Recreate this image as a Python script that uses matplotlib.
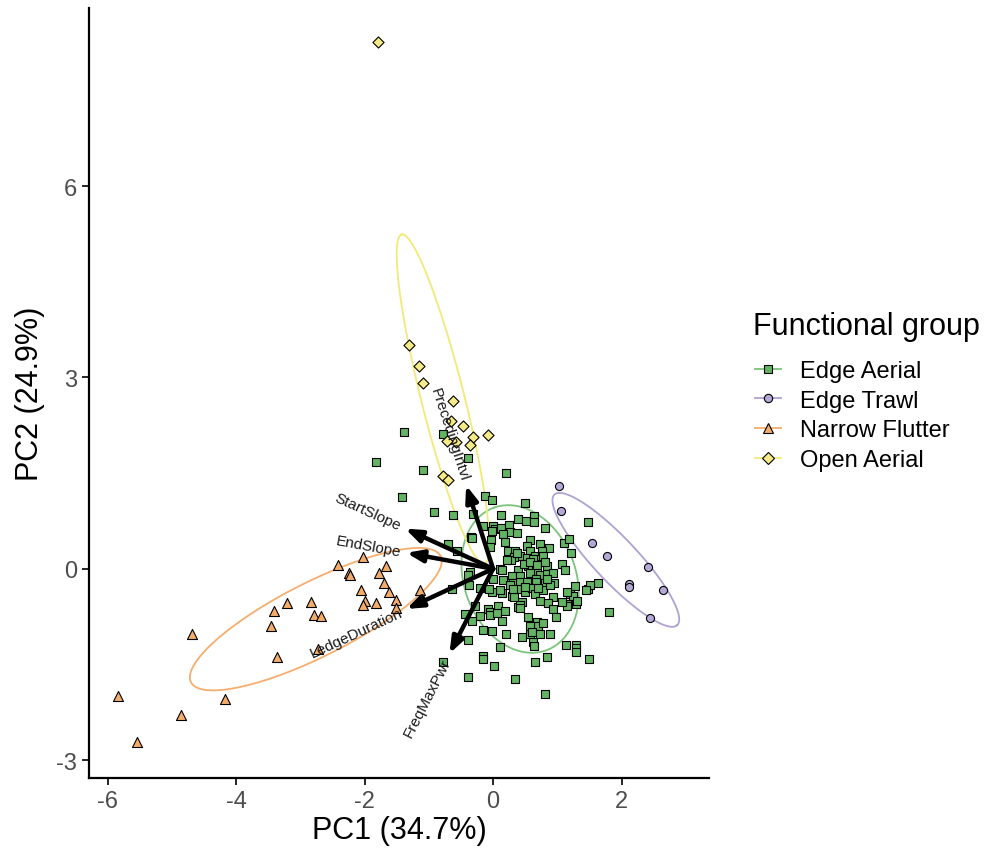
import numpy as np
import matplotlib
matplotlib.use('Agg')
import matplotlib.pyplot as plt
from matplotlib.lines import Line2D

plt.rcParams['font.family'] = ['Liberation Sans', 'DejaVu Sans']
plt.rcParams['axes.unicode_minus'] = False

# ---- data (PC scores) ----
edge_aerial_pc1 = [-1.39, -1.82, -1.09, -0.78, -0.39, 0.20, -1.42, -0.92, -0.62, -0.12,
                   -0.02, 0.50, -0.31, 0.12, 0.39, 0.51, 0.64, 0.64, 0.81, 1.48,
                   -0.16, 0.00, 0.03, 0.12, 0.25, 0.26, 0.16, 0.37, -0.34, -0.03,
                   0.19, 0.58, 0.73, 0.87, 0.53, 1.11, 1.18, -0.70, -0.56, -0.05,
                   0.23, 0.34, 0.42, 0.58, 0.65, 0.76, 0.33, 0.28, 0.53, 0.62,
                   0.78, 1.21, 0.11, 0.39, 0.54, 0.68, 0.84, 1.07, 1.12, -0.36,
                   0.00, 0.30, 0.42, 0.58, 0.73, 0.84, 0.93, 0.26, 0.31, 0.42,
                   0.53, 0.67, 0.67, 0.81, 0.95, -0.20, 0.14, 0.30, 0.37, 0.50,
                   0.61, 0.65, 0.78, 0.93, 1.28, 1.20, 1.25, 1.48, 1.63, 1.51,
                   -0.64, -0.39, -0.28, -0.08, -0.05, -0.05, 0.08, 0.19, 0.39, 0.45,
                   0.73, 0.86, 0.93, 1.15, 1.15, 1.29, -0.44, -0.20, 0.14, -0.33,
                   0.54, 0.68, 0.70, 0.78, 0.58, -0.16, -0.02, 0.20, 0.45, 0.58,
                   0.61, 0.73, 0.89, 0.62, 0.64, 0.11, 1.14, 1.29, 1.29, 1.29,
                   1.49, -0.16, -0.16, 0.02, 0.65, 0.84, -0.39, 0.34, 0.81, -0.78,
                   0.98, 1.81, 1.31, 0.33, 0.06, 0.42, 0.42, 1.07, 1.45, -0.39,
                   -0.02, -0.33, 0.37, 0.21, 0.48, 0.58, 0.69, 0.81, 0.14, 0.16,
                   0.50, 0.70, 0.26, 0.31, 0.11, -0.02, 1.15, -0.38, -0.06, 0.89,
                   0.84]
edge_aerial_pc2 = [2.15, 1.68, 1.55, 2.12, 1.74, 1.50, 1.13, 0.89, 0.85, 1.14,
                   1.08, 1.03, 0.86, 0.85, 0.78, 0.75, 0.82, 0.74, 0.64, 0.74,
                   0.67, 0.67, 0.63, 0.64, 0.69, 0.58, 0.55, 0.56, 0.50, 0.45,
                   0.42, 0.45, 0.39, 0.33, 0.36, 0.41, 0.47, 0.39, 0.28, 0.34,
                   0.28, 0.28, 0.20, 0.28, 0.20, 0.28, 0.19, 0.14, 0.17, 0.16,
                   0.20, 0.25, 0.00, -0.02, 0.05, -0.05, 0.05, 0.08, -0.02, -0.05,
                   -0.16, -0.11, -0.11, -0.06, -0.09, -0.08, -0.06, -0.22, -0.22, -0.20,
                   -0.20, -0.16, -0.20, -0.22, -0.22, -0.30, -0.38, -0.42, -0.31, -0.36,
                   -0.30, -0.39, -0.34, -0.44, -0.27, -0.39, -0.42, -0.31, -0.22, -0.25,
                   -0.31, -0.09, -0.58, -0.63, -0.67, -0.72, -0.58, -0.66, -0.60, -0.52,
                   -0.50, -0.53, -0.63, -0.55, -0.58, -0.55, -0.71, -0.74, -0.82, -0.82,
                   -0.75, -0.83, -0.89, -0.85, -0.89, -0.96, -0.97, -1.02, -1.07, -1.02,
                   -0.99, -1.02, -1.02, -1.14, -1.21, -1.22, -1.19, -1.19, -1.24, -1.30,
                   -1.41, -1.36, -1.41, -1.52, -1.46, -1.38, -1.69, -1.72, -1.96, -1.46,
                   -0.75, -0.67, -0.50, -0.45, -0.69, -0.56, -0.61, -0.52, -0.34, -1.11,
                   0.60, 0.48, 0.24, 0.13, 0.08, 0.11, 0.06, 0.11, -0.02, -0.17,
                   -0.29, -0.30, -0.26, -0.31, -0.34, -0.37, -0.37, -0.26, -0.31, -0.26,
                   -0.16]

edge_trawl_pc1 = [1.03, 1.06, 1.54, 1.77, 2.41, 2.12, 2.12, 2.65, 2.44]
edge_trawl_pc2 = [1.30, 0.91, 0.41, 0.20, 0.03, -0.24, -0.28, -0.34, -0.77]

narrow_flutter_pc1 = [-2.41, -2.02, -2.24, -2.23, -1.67, -1.77, -1.70, -1.62, -2.05, -1.99,
                      -2.02, -1.82, -1.51, -1.51, -1.14, -3.21, -2.83, -3.41, -2.79, -2.68,
                      -3.46, -4.68, -3.36, -2.72, -5.84, -4.17, -4.86, -5.54]
narrow_flutter_pc2 = [0.06, 0.19, -0.06, -0.09, 0.05, -0.06, -0.22, -0.36, -0.34, -0.50,
                      -0.56, -0.53, -0.49, -0.61, -0.34, -0.53, -0.52, -0.66, -0.72, -0.74,
                      -0.89, -1.02, -1.38, -1.25, -1.99, -2.04, -2.29, -2.71]

open_aerial_pc1 = [-1.79, -1.31, -1.15, -1.09, -0.62, -0.65, -0.47, -0.31, -0.08, -0.36,
                   -0.58, -0.72, -0.78, -0.70]
open_aerial_pc2 = [8.26, 3.51, 3.18, 2.92, 2.63, 2.32, 2.24, 2.07, 2.10, 1.94,
                   1.99, 2.01, 1.46, 1.39]

groups = ['Edge Aerial', 'Edge Trawl', 'Narrow Flutter', 'Open Aerial']

# normal-probability ellipses: centre x, centre y, semi-major, semi-minor, angle (deg)
ell_cx = [0.42, 1.91, -2.76, -0.78]
ell_cy = [-0.16, 0.14, -0.79, 2.66]
ell_a = [1.19, 1.40, 2.18, 2.66]
ell_b = [0.87, 0.34, 0.58, 0.335]
ell_ang = [110, -47, 27, 104]

# variable loadings (arrows)
var_names = ['PrecedingIntvl', 'StartSlope', 'EndSlope', 'LedgeDuration', 'FreqMaxPwr']
var_pc1 = [-0.42, -1.37, -1.35, -1.35, -0.68]
var_pc2 = [1.31, 0.63, 0.25, -0.63, -1.33]

# ---- styling ----
fills = ['#62B462', '#B6A8D6', '#F3AD6A', '#F5EA88']
lines = ['#7CC47C', '#AFA2D3', '#F6AE6E', '#F3E977']
markers = ['s', 'o', '^', 'D']
sizes = [36, 34, 52, 32]

fig = plt.figure(figsize=(9.88, 8.54), dpi=100)
ax = fig.add_axes([0.0901, 0.0878, 0.6275, 0.9016])

xs = [edge_aerial_pc1, edge_trawl_pc1, narrow_flutter_pc1, open_aerial_pc1]
ys = [edge_aerial_pc2, edge_trawl_pc2, narrow_flutter_pc2, open_aerial_pc2]

t = np.linspace(0, 2 * np.pi, 300)
for i in range(4):
    th = np.radians(ell_ang[i])
    ex = ell_cx[i] + ell_a[i] * np.cos(t) * np.cos(th) - ell_b[i] * np.sin(t) * np.sin(th)
    ey = ell_cy[i] + ell_a[i] * np.cos(t) * np.sin(th) + ell_b[i] * np.sin(t) * np.cos(th)
    ax.plot(ex, ey, color=lines[i], lw=1.3, zorder=1)

for i in range(4):
    ax.scatter(xs[i], ys[i], marker=markers[i], s=sizes[i], c=fills[i],
               edgecolors='black', linewidths=0.8, zorder=2)

ax.set_xlim(-6.29, 3.36)
ax.set_ylim(-3.28, 8.79)

for name, x, y in zip(var_names, var_pc1, var_pc2):
    ax.annotate('', xy=(x, y), xytext=(0, 0),
                arrowprops=dict(arrowstyle='-|>,head_length=0.8,head_width=0.3',
                                lw=3.2, color='black',
                                mutation_scale=12, shrinkA=0, shrinkB=0),
                zorder=3)
    p0 = ax.transData.transform((0, 0))
    p1 = ax.transData.transform((x, y))
    d = (p1 - p0) / np.hypot(*(p1 - p0))
    if x < 0:
        rot = np.degrees(np.arctan2(-d[1], -d[0]))
        ha = 'right'
    else:
        rot = np.degrees(np.arctan2(d[1], d[0]))
        ha = 'left'
    gap = 4
    ax.annotate(name, xy=(x, y), xytext=(d[0] * gap, d[1] * gap),
                textcoords='offset points', rotation=rot, rotation_mode='anchor',
                ha=ha, va='center', fontsize=11, color='#1a1a1a', zorder=4)

ax.set_xticks([-6, -4, -2, 0, 2])
ax.set_yticks([-3, 0, 3, 6])
ax.tick_params(axis='both', labelsize=17, labelcolor='#4D4D4D', length=5,
               width=1.2, color='black')
for s in ['top', 'right']:
    ax.spines[s].set_visible(False)
for s in ['left', 'bottom']:
    ax.spines[s].set_linewidth(1.6)
ax.set_xlabel('PC1 (34.7%)', fontsize=22, labelpad=2)
ax.set_ylabel('PC2 (24.9%)', fontsize=22, labelpad=8)

handles = [Line2D([0], [0], color=lines[i], lw=1.3, marker=markers[i],
                  markerfacecolor=fills[i], markeredgecolor='black',
                  markeredgewidth=0.8, markersize=6 if markers[i] != '^' else 7)
           for i in range(4)]
fig.text(753 / 988, 1 - 327 / 854, 'Functional group', fontsize=22,
         ha='left', va='center')
leg = fig.legend(handles, groups, loc='center left',
                 bbox_to_anchor=(0.764, 1 - 416.5 / 854), frameon=False, fontsize=17,
                 handlelength=1.1, handletextpad=0.8,
                 labelspacing=0.33, borderpad=0, borderaxespad=0)

fig.savefig('out.png', dpi=100)
